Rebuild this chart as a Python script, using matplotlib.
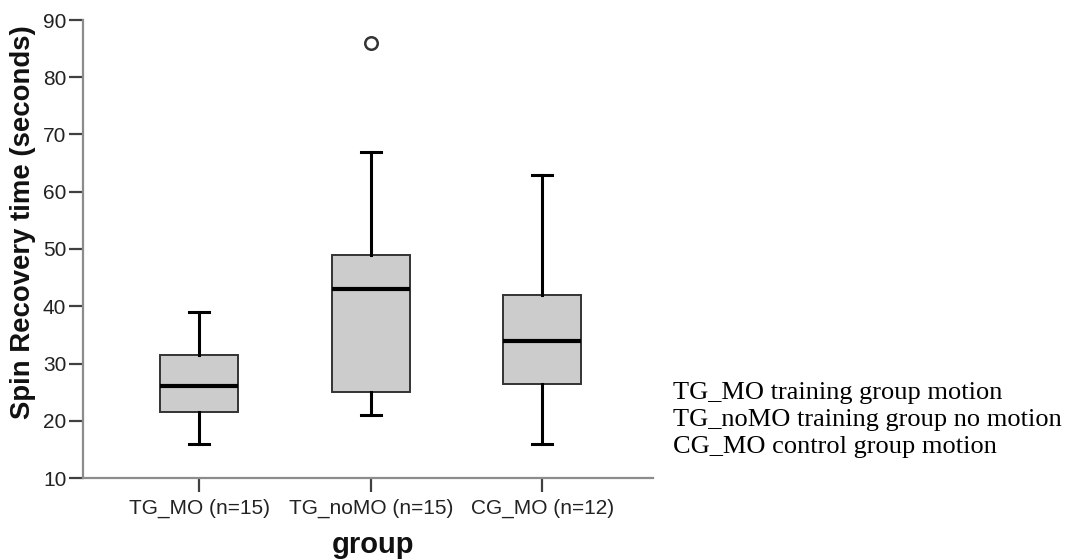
import matplotlib
matplotlib.use("Agg")
import matplotlib.pyplot as plt

# ---- data ----
groups = ["TG_MO (n=15)", "TG_noMO (n=15)", "CG_MO (n=12)"]
whisker_low = [16, 21, 16]
q1 = [21.5, 25, 26.5]
median = [26, 43, 34]
q3 = [31.5, 49, 42]
whisker_high = [39, 67, 63]
outliers = [[], [86], []]
yticks = [10, 20, 30, 40, 50, 60, 70, 80, 90]
note_lines = ["TG_MO training group motion",
              "TG_noMO training group no motion",
              "CG_MO control group motion"]

W, H = 1068, 559
fig = plt.figure(figsize=(W / 100, H / 100), dpi=100)
ax = fig.add_axes([83 / W, 1 - 478 / H, (653 - 83) / W, (478 - 20) / H])

stats = []
for i, g in enumerate(groups):
    stats.append(dict(label=g, whislo=whisker_low[i], q1=q1[i], med=median[i],
                      q3=q3[i], whishi=whisker_high[i], fliers=outliers[i]))

ax.bxp(stats, positions=range(len(groups)), widths=0.455, patch_artist=True,
       showfliers=True, capwidths=0.117,
       boxprops=dict(facecolor="#cccccc", edgecolor="#333333", linewidth=1.4),
       medianprops=dict(color="black", linewidth=3.0, solid_capstyle="butt"),
       whiskerprops=dict(color="black", linewidth=2.2),
       capprops=dict(color="black", linewidth=2.2),
       flierprops=dict(marker="o", markersize=9, markerfacecolor="white",
                       markeredgecolor="#333333", markeredgewidth=1.8))

ax.set_xlim(-0.678, 2.645)
ax.set_ylim(10, 90)
ax.set_yticks(yticks)
ax.set_yticklabels([str(t) for t in yticks])

font = "Liberation Sans"
for lab in ax.get_xticklabels() + ax.get_yticklabels():
    lab.set_fontfamily(font)
    lab.set_fontsize(15)
    lab.set_color("#222222")

for s in ["top", "right"]:
    ax.spines[s].set_visible(False)
for s in ["left", "bottom"]:
    ax.spines[s].set_color("#8c8c8c")
    ax.spines[s].set_linewidth(1.6)

ax.tick_params(axis="y", length=10, width=1.6, color="#404040", pad=2)
ax.tick_params(axis="x", length=10, width=1.6, color="#404040", pad=5)

fig.text(23 / W, 1 - 222 / H, "Spin Recovery time (seconds)", rotation=90,
         ha="center", va="center", fontsize=19.8, fontweight="bold",
         family=font, color="#111111")
fig.text(373 / W, 1 - 553 / H, "group", ha="center", va="baseline",
         fontsize=21, fontweight="bold", family=font, color="#111111")

baselines = [399.3, 426, 452.7]
for line, b in zip(note_lines, baselines):
    fig.text(673 / W, 1 - b / H, line, ha="left", va="baseline",
             fontsize=19, family="Liberation Serif", color="black")

fig.savefig("out.png", dpi=100)
